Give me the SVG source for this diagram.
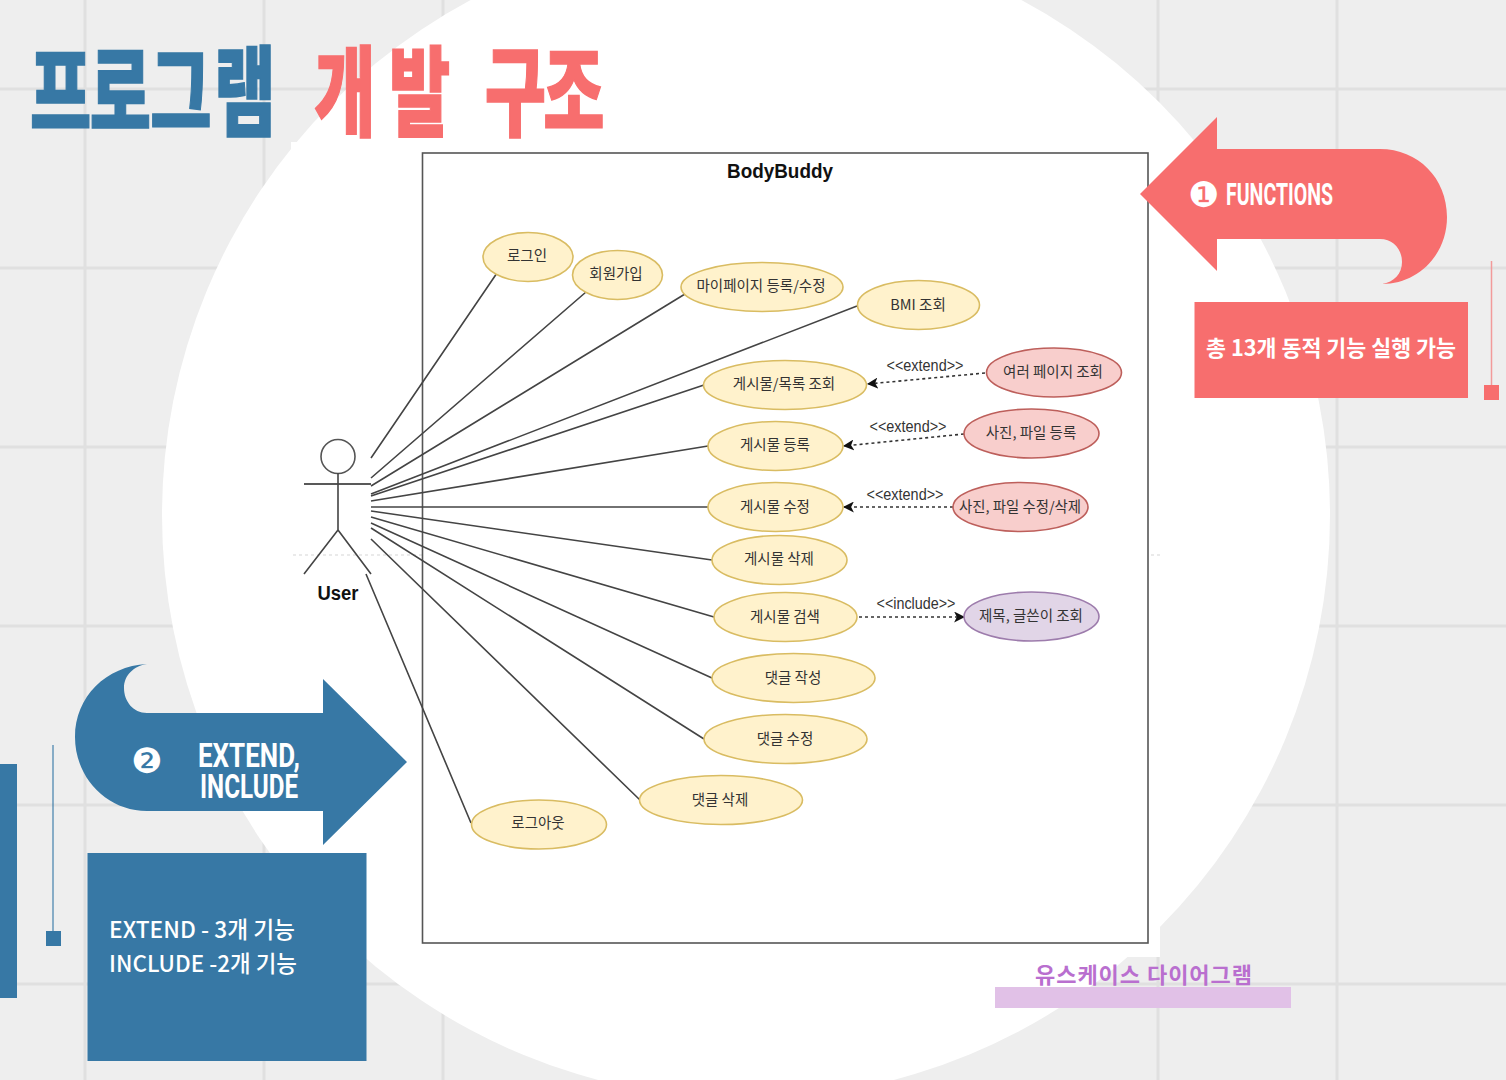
<svg xmlns="http://www.w3.org/2000/svg" width="1506" height="1080" viewBox="0 0 1506 1080">
<defs>
<marker id="ah" viewBox="0 0 10 10" refX="9" refY="5" markerWidth="11" markerHeight="11" markerUnits="userSpaceOnUse" orient="auto"><path d="M0 0L10 5L0 10L2.5 5Z" fill="#111"/></marker>
</defs>
<style>
.g{stroke:#e0e0e0;stroke-width:3;fill:none}
.c{stroke:#444;stroke-width:1.6;fill:none}
.d{stroke:#333;stroke-width:1.6;stroke-dasharray:3 3;fill:none;marker-end:url(#ah)}
.y{fill:#fff2cc;stroke:#d9bc62;stroke-width:1.6}
.r{fill:#f8cecc;stroke:#bd5f5b;stroke-width:1.6}
.p{fill:#e1d5e7;stroke:#9d7cac;stroke-width:1.6}
text{font-family:"Noto Sans CJK KR","Noto Sans",sans-serif}
.t{font-size:14.5px;fill:#333;text-anchor:middle}
.l{font-family:"Liberation Sans",sans-serif;font-size:16px;fill:#333;text-anchor:middle}
.h{font-weight:900;font-size:98px;stroke-width:1.5}
.w{fill:#fff;font-weight:500}
.n{font-family:"Roboto",sans-serif;font-weight:700;fill:#fff}
.o{font-family:"DejaVu Sans",sans-serif;font-size:35px;fill:#fff;text-anchor:middle}
.bk{font-family:"Liberation Sans",sans-serif;font-weight:700;font-size:20px;fill:#111;text-anchor:middle}
</style>
<rect width="1506" height="1080" fill="#eeeeee"/>
<path class="g" d="M85 0V1080M264 0V1080M443 0V1080M1158 0V1080M1337 0V1080M0 89H1506M0 268H1506M0 447H1506M0 626H1506M0 805H1506M0 984H1506"/>
<circle cx="746" cy="515" r="584" fill="#fff"/>
<rect x="291" y="142" width="869" height="815" fill="#fff"/>
<path d="M293 555H1160" stroke="#e4e4e4" stroke-width="1.5" stroke-dasharray="3 3" fill="none"/>
<g id="system"><rect x="422.500" y="153" width="725.500" height="790" fill="#fff" stroke="#555" stroke-width="1.6"/><text class="bk" x="780" y="178" textLength="106" lengthAdjust="spacingAndGlyphs">BodyBuddy</text></g>
<g id="connectors">
<path class="c" d="M371 458L497 273M371 478L586 292M371 486L685 294M371 494L857 306M371 496L704 385M371 501L708 446M371 507L708 507M371 511L712 560M371 517L714 617M371 523L712 678M371 528L704 739M371 539L640 800M366 574L471 823"/>
<path class="d" d="M985 373L868 384"/>
<path class="d" d="M964 434L844 446"/>
<path class="d" d="M953 507L844 507"/>
<path class="d" d="M859 617L964 617"/>
<text class="l" x="925" y="371" textLength="77" lengthAdjust="spacingAndGlyphs">&lt;&lt;extend&gt;&gt;</text>
<text class="l" x="908" y="432" textLength="77" lengthAdjust="spacingAndGlyphs">&lt;&lt;extend&gt;&gt;</text>
<text class="l" x="905" y="500" textLength="77" lengthAdjust="spacingAndGlyphs">&lt;&lt;extend&gt;&gt;</text>
<text class="l" x="916" y="609" textLength="79" lengthAdjust="spacingAndGlyphs">&lt;&lt;include&gt;&gt;</text>
</g>
<g id="actor-user"><circle cx="338" cy="456.500" r="17" fill="#fff" stroke="#555" stroke-width="1.6"/><path d="M304 484H371" stroke="#222" stroke-width="1.5"/><path class="c" d="M338 473V530L304 574M338 530L371 574"/><text class="bk" x="338" y="600" textLength="41" lengthAdjust="spacingAndGlyphs">User</text></g>
<g id="u1"><ellipse class="y" cx="528" cy="257" rx="45" ry="24.500"/><text class="t" x="527" y="261">로그인</text></g>
<g id="u2"><ellipse class="y" cx="617.500" cy="275" rx="45" ry="24.500"/><text class="t" x="616" y="279">회원가입</text></g>
<g id="u3"><ellipse class="y" cx="762" cy="287" rx="81" ry="24.500"/><text class="t" x="761" y="291">마이페이지 등록/수정</text></g>
<g id="u4"><ellipse class="y" cx="918.500" cy="305" rx="61" ry="24.500"/><text class="t" x="918" y="310">BMI 조회</text></g>
<g id="u5"><ellipse class="y" cx="785" cy="385" rx="81.500" ry="24.500"/><text class="t" x="784" y="389">게시물/목록 조회</text></g>
<g id="u6"><ellipse class="y" cx="775.500" cy="446" rx="67.500" ry="24.500"/><text class="t" x="775" y="450">게시물 등록</text></g>
<g id="u7"><ellipse class="y" cx="775.500" cy="507" rx="67.500" ry="24.500"/><text class="t" x="775" y="512">게시물 수정</text></g>
<g id="u8"><ellipse class="y" cx="779.500" cy="560" rx="67.500" ry="24.500"/><text class="t" x="779" y="564">게시물 삭제</text></g>
<g id="u9"><ellipse class="y" cx="785.500" cy="617" rx="71.500" ry="24.500"/><text class="t" x="785" y="622">게시물 검색</text></g>
<g id="u10"><ellipse class="y" cx="793.500" cy="678" rx="81.500" ry="24.500"/><text class="t" x="793" y="683">댓글 작성</text></g>
<g id="u11"><ellipse class="y" cx="785.500" cy="739" rx="81.500" ry="24.500"/><text class="t" x="785" y="744">댓글 수정</text></g>
<g id="u12"><ellipse class="y" cx="721" cy="800" rx="81.500" ry="24.500"/><text class="t" x="720" y="805">댓글 삭제</text></g>
<g id="u13"><ellipse class="y" cx="539" cy="824.500" rx="67.500" ry="24.500"/><text class="t" x="538" y="828">로그아웃</text></g>
<g id="e1"><ellipse class="r" cx="1054" cy="372.500" rx="67.500" ry="24.500"/><text class="t" x="1053" y="377">여러 페이지 조회</text></g>
<g id="e2"><ellipse class="r" cx="1031.500" cy="433.500" rx="67.500" ry="24.500"/><text class="t" x="1031" y="438">사진, 파일 등록</text></g>
<g id="e3"><ellipse class="r" cx="1020.500" cy="507" rx="67.500" ry="24.500"/><text class="t" x="1020" y="512" textLength="122" lengthAdjust="spacingAndGlyphs">사진, 파일 수정/삭제</text></g>
<g id="i1"><ellipse class="p" cx="1031.500" cy="616.500" rx="67.500" ry="24.500"/><text class="t" x="1031" y="621">제목, 글쓴이 조회</text></g>
<g id="title">
<text class="h" transform="scale(.68 1)" y="128" x="44 132 221 315" fill="#3778a5" stroke="#3778a5">프로그램</text>
<text class="h" transform="scale(.68 1)" y="128" x="462 572 662 713 799" fill="#f76e6e" stroke="#f76e6e">개발 구조</text>
</g>
<g id="functions">
<path d="M1140 194L1217 117V149H1380C1418 149 1447 178 1447 217C1447 255 1418 284 1382 284C1394 282 1402 274 1402 262C1402 249 1393 239 1380 239H1217V271Z" fill="#f76e6e"/>
<text class="o" x="1204" y="207">❶</text>
<text class="n" x="1226" y="205" font-size="32" textLength="107" lengthAdjust="spacingAndGlyphs">FUNCTIONS</text>
</g>
<g id="functions-note">
<rect x="1194.500" y="302" width="273.500" height="96" fill="#f76e6e"/>
<text class="w" x="1206" y="356" font-size="22" style="font-weight:700" textLength="250" lengthAdjust="spacingAndGlyphs">총 13개 동적 기능 실행 가능</text>
<path d="M1491.500 261V385" stroke="#f29a9a" stroke-width="1.500"/>
<rect x="1484" y="385" width="15" height="15" fill="#f76e6e"/>
</g>
<g id="extend">
<path d="M407 762L323 679V713H147C133 713 124 701 124 688C124 675 134 666 147 664C106 666 75 697 75 737C75 778 107 811 147 811H323V845Z" fill="#3778a5"/>
<text class="o" x="147" y="773">❷</text>
<text class="n" x="198" y="767" font-size="33" textLength="102" lengthAdjust="spacingAndGlyphs">EXTEND,</text>
<text class="n" x="200" y="798" font-size="33" textLength="98" lengthAdjust="spacingAndGlyphs">INCLUDE</text>
</g>
<g id="extend-note">
<rect x="0" y="764" width="17" height="234" fill="#3778a5"/>
<path d="M53 745V931" stroke="#3778a5" stroke-opacity=".75" stroke-width="1.500"/>
<rect x="46" y="931" width="15" height="15" fill="#3778a5"/>
<rect x="87.500" y="853" width="279" height="208" fill="#3778a5"/>
<text class="w" x="109" y="938" font-size="23" textLength="186" lengthAdjust="spacingAndGlyphs">EXTEND - 3개 기능</text>
<text class="w" x="109" y="972" font-size="23" textLength="188" lengthAdjust="spacingAndGlyphs">INCLUDE -2개 기능</text>
</g>
<g id="caption">
<rect x="995" y="987" width="296" height="21" fill="#e1c1e7"/>
<text x="1035" y="983" font-size="22" font-weight="700" fill="#b96fcf" textLength="217" lengthAdjust="spacing">유스케이스 다이어그램</text>
</g>
</svg>
